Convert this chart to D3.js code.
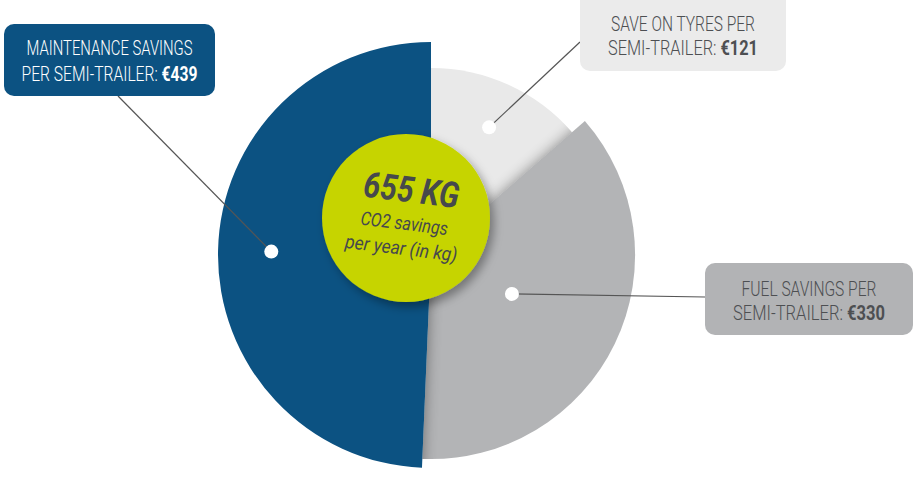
<!DOCTYPE html>
<html>
<head>
<meta charset="utf-8">
<script src="https://cdn.jsdelivr.net/npm/d3@7"></script>
<style>
  html, body { margin: 0; padding: 0; background: #fff; }
  svg { display: block; }
</style>
</head>
<body>
<svg id="chart" width="916" height="477"></svg>
<script>
// data
var categories = ['Save on tyres', 'Fuel savings', 'Maintenance savings'];
var values = [121, 330, 439];
var labelLines = [
  ['SAVE ON TYRES PER', 'SEMI-TRAILER: '],
  ['FUEL SAVINGS PER', 'SEMI-TRAILER: '],
  ['MAINTENANCE SAVINGS', 'PER SEMI-TRAILER: ']
];
var centerValue = '655 KG';
var centerLines = ['CO2 savings', 'per year (in kg)'];

// layout + style
var colors = ['#e9e9e9', '#b3b4b6', '#0c5282'];
var boxFill = ['#ebebeb', '#b2b3b5', '#0c5282'];
var textFill = ['#4d4f52', '#4d4f52', '#ffffff'];
var boxes = [
  { x: 580, y: -10, w: 206, h: 81, line1: 31, line2: 55, len: [144, 150], anchor: [580, 42] },
  { x: 705, y: 263, w: 208, h: 72, line1: 296, line2: 320, len: [135, 152], anchor: [705, 297] },
  { x: 4, y: 24, w: 211, h: 72, line1: 55, line2: 81, len: [166, 176], anchor: [118, 96] }
];
var dotFrac = [0.75, 0.44, 0.75];

var svg = d3.select('#chart');
var cx = 431, cy = 255;

var r = d3.scaleLinear().domain([121, 439]).range([187, 213]);

var pie = d3.pie().sort(null).startAngle(0).endAngle(2 * Math.PI);
var arcs = pie(values);

var arcGen = d3.arc().innerRadius(0).outerRadius(d => r(d.value));

var defs = svg.append('defs');
defs.append('filter').attr('id', 'soft')
  .attr('x', '-20%').attr('y', '-20%').attr('width', '140%').attr('height', '140%')
  .append('feGaussianBlur').attr('stdDeviation', 7);

var circleShadow = defs.append('filter').attr('id', 'circle-shadow')
  .attr('x', '-30%').attr('y', '-30%').attr('width', '160%').attr('height', '160%');
circleShadow.append('feDropShadow')
  .attr('dx', 4).attr('dy', 5).attr('stdDeviation', 5)
  .attr('flood-color', '#000').attr('flood-opacity', 0.35);

arcs.forEach(function(d, i) {
  defs.append('clipPath').attr('id', 'clip-' + i)
    .append('path').attr('d', arcGen(d));
});

var pieGroup = svg.append('g').attr('transform', `translate(${cx},${cy})`);

arcs.forEach(function(d, i) {
  pieGroup.append('path')
    .attr('d', arcGen(d))
    .attr('fill', colors[i]);

  // shadow cast on the slice underneath
  if (i > 0) {
    pieGroup.append('g')
      .attr('clip-path', `url(#clip-${i - 1})`)
      .append('path')
      .attr('d', arcGen(d))
      .attr('fill', '#000')
      .attr('opacity', 0.4)
      .attr('filter', 'url(#soft)');
  }
});

// leader lines + dots
arcs.forEach(function(d, i) {
  var a = (d.startAngle + d.endAngle) / 2;
  var rr = r(d.value) * dotFrac[i];
  var px = cx + Math.sin(a) * rr, py = cy - Math.cos(a) * rr;
  svg.append('line')
    .attr('x1', px).attr('y1', py)
    .attr('x2', boxes[i].anchor[0]).attr('y2', boxes[i].anchor[1])
    .attr('stroke', '#555').attr('stroke-width', 1.2);
  svg.append('circle')
    .attr('cx', px).attr('cy', py).attr('r', 7)
    .attr('fill', '#fff');
});

// squeeze a text horizontally to a target width (condensed look)
function fitText(sel, x, y, width) {
  var w = sel.node().getComputedTextLength();
  sel.attr('x', 0).attr('y', 0)
    .attr('transform', `translate(${x},${y}) scale(${width / w},1)`);
}

// center circle
svg.append('circle')
  .attr('cx', 406).attr('cy', 218).attr('r', 84)
  .attr('fill', '#c6d400')
  .attr('filter', 'url(#circle-shadow)');

var center = svg.append('g').attr('transform', 'translate(406,218) rotate(7)');
var big = center.append('text')
  .attr('text-anchor', 'middle')
  .attr('font-family', 'Roboto, sans-serif')
  .attr('font-weight', 700)
  .attr('font-style', 'italic')
  .attr('font-size', 36)
  .attr('fill', '#46494c')
  .text(centerValue);
fitText(big, 2, -16, 96);
centerLines.forEach(function(t, i) {
  var s = center.append('text')
    .attr('text-anchor', 'middle')
    .attr('font-family', 'Roboto, sans-serif')
    .attr('font-weight', 400)
    .attr('font-style', 'italic')
    .attr('font-size', 19)
    .attr('fill', '#46494c')
    .text(t);
  fitText(s, -1, 12 + i * 25, i === 0 ? 88 : 113);
});

// label boxes
arcs.forEach(function(d, i) {
  var b = boxes[i];
  var g = svg.append('g');
  g.append('rect')
    .attr('x', b.x).attr('y', b.y).attr('width', b.w).attr('height', b.h)
    .attr('rx', 10).attr('ry', 10)
    .attr('fill', boxFill[i]);
  var mid = b.x + b.w / 2;
  var t1 = g.append('text')
    .attr('text-anchor', 'middle')
    .attr('font-family', 'Roboto, sans-serif')
    .attr('font-weight', 300)
    .attr('font-size', 20)
    .attr('fill', textFill[i])
    .text(labelLines[i][0]);
  fitText(t1, mid, b.line1, b.len[0]);
  var t2 = g.append('text')
    .attr('text-anchor', 'middle')
    .attr('font-family', 'Roboto, sans-serif')
    .attr('font-weight', 300)
    .attr('font-size', 20)
    .attr('fill', textFill[i]);
  t2.append('tspan').text(labelLines[i][1]);
  t2.append('tspan').attr('font-weight', 700).text('€' + d.value);
  fitText(t2, mid, b.line2, b.len[1]);
});
</script>
</body>
</html>
